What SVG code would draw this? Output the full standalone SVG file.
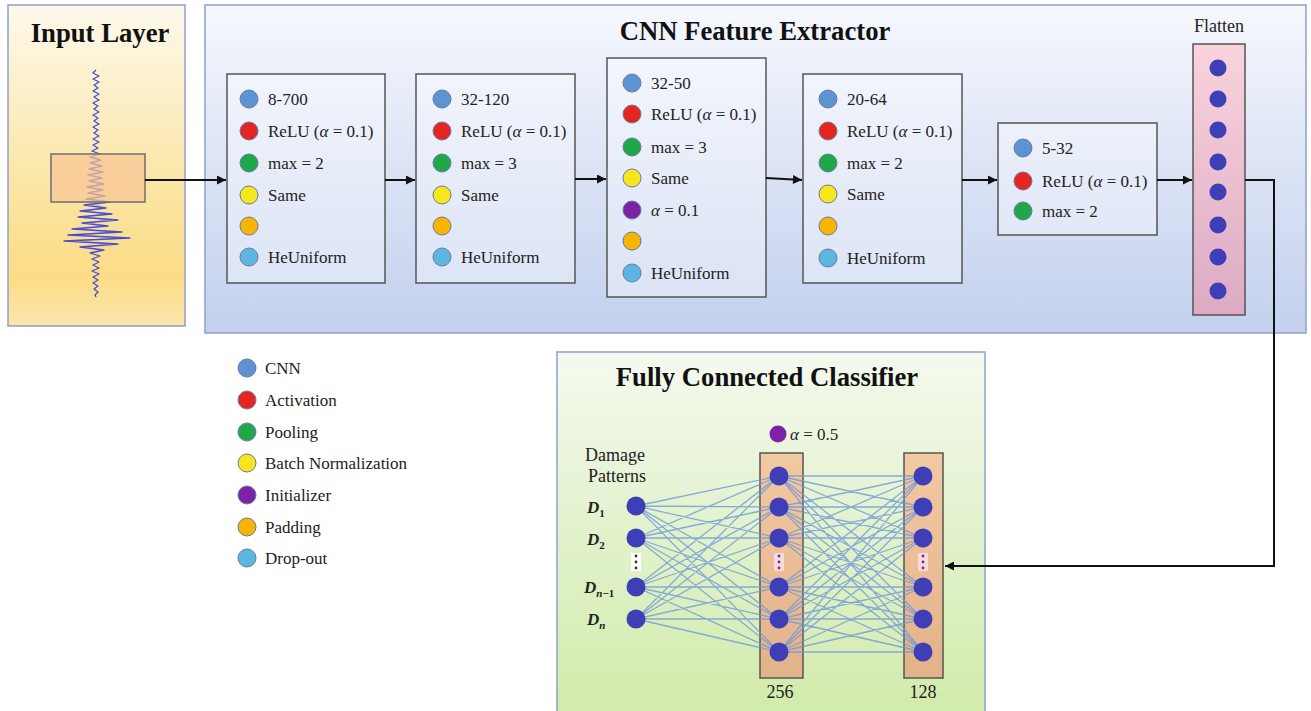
<svg xmlns="http://www.w3.org/2000/svg" width="1311" height="711" viewBox="0 0 1311 711">
  <defs>
    <linearGradient id="gInput" x1="0" y1="0" x2="0" y2="1">
      <stop offset="0" stop-color="#fdf9ec"/>
      <stop offset="0.55" stop-color="#fbe6a6"/>
      <stop offset="0.85" stop-color="#fbdc86"/>
      <stop offset="1" stop-color="#fce6ae"/>
    </linearGradient>
    <linearGradient id="gCnn" x1="0" y1="0" x2="0" y2="1">
      <stop offset="0" stop-color="#f6f8fd"/>
      <stop offset="0.5" stop-color="#dbe3f5"/>
      <stop offset="1" stop-color="#c3d1ee"/>
    </linearGradient>
    <linearGradient id="gFc" x1="0" y1="0" x2="0" y2="1">
      <stop offset="0" stop-color="#f5f9ef"/>
      <stop offset="0.5" stop-color="#e2f2cc"/>
      <stop offset="1" stop-color="#d1ebaa"/>
    </linearGradient>
    <linearGradient id="gFlat" x1="0" y1="0" x2="0" y2="1">
      <stop offset="0" stop-color="#f9d3dc"/>
      <stop offset="1" stop-color="#dcaac4"/>
    </linearGradient>
    <linearGradient id="gLayer" x1="0" y1="0" x2="0" y2="1">
      <stop offset="0" stop-color="#f3c9a2"/>
      <stop offset="1" stop-color="#e2b28a"/>
    </linearGradient>
    <marker id="arr" viewBox="0 0 10 10" refX="10" refY="5" markerWidth="10" markerHeight="9" markerUnits="userSpaceOnUse" orient="auto">
      <path d="M0,0 L10,5 L0,10 z" fill="#111"/>
    </marker>
    <style>
      .ttl{font-family:"Liberation Serif",serif;font-weight:bold;font-size:26.7px;fill:#111;text-anchor:middle}
      .t{font-family:"Liberation Serif",serif;font-size:17px;fill:#222}
      .tc{font-family:"Liberation Serif",serif;font-size:18px;fill:#222;text-anchor:middle}
      .d{font-family:"Liberation Serif",serif;font-size:17px;font-style:italic;font-weight:bold;fill:#222}
      .sub{font-size:11px;font-style:normal}
      .sub .v{font-style:italic}
      .panel{stroke:#8fa0cf;stroke-width:1.5}
      .box{fill:#ffffff;fill-opacity:.35;stroke:#555;stroke-width:1.5}
      .c{stroke:#6b79a4;stroke-width:1}
      .cnn{fill:#5b93d3}.act{fill:#e3261f}.pool{fill:#1fa84a}.bn{fill:#f6e61c}
      .ini{fill:#7d22a6}.pad{fill:#f7b500}.drop{fill:#5cb6e0}
      .nr{fill:#3e3eb6}
      .fl{stroke:#111;stroke-width:2;fill:none}
      .mesh{stroke:#6f98d8;stroke-width:1.3;stroke-opacity:.8;fill:none}
      .lay{fill:url(#gLayer);stroke:#555;stroke-width:1.5}
    </style>
  </defs>

  <!-- Input layer panel -->
  <g id="input-layer">
    <rect class="panel" x="8" y="5" width="177" height="321" fill="url(#gInput)"/>
    <text class="ttl" x="100" y="42">Input Layer</text>
    <polyline fill="none" stroke="#b8b8c8" stroke-width="1.2" points="96,205 104,208 86,211 108,214 82,217 112,220 84,223 106,226 78,229 116,232 74,235 124,238 70,241 112,244 84,247 100,250"/>
    <polyline fill="none" stroke="#4a4ed0" stroke-width="1.3" stroke-linejoin="round" points="96,70 93,73 99,76 93,79 99,82 94,85 98,88 93,91 99,94 94,97 99,100 93,103 98,106 94,109 99,112 93,115 98,118 94,121 99,124 93,127 98,130 94,133 99,136 93,139 99,142 93,145 98,148 92,151 100,154 90,157 101,160 90,163 102,166 89,169 103,172 88,175 102,178 89,181 104,184 87,187 103,190 88,193 105,196 86,199 110,202 84,205 106,208 80,211 112,214 78,217 118,220 82,223 108,226 72,229 122,232 68,235 130,238 64,241 118,244 80,247 104,250 90,253 100,256 92,259 99,262 93,265 99,268 92,271 99,274 93,277 98,280 93,283 98,286 94,289 98,292 95,295 96,297"/>
    <rect x="51" y="154" width="94" height="48" fill="#f8c594" fill-opacity="0.72" stroke="#6e6e6e" stroke-width="1.5"/>
  </g>

  <!-- CNN feature extractor panel -->
  <g id="cnn-panel">
    <rect class="panel" x="205" y="5" width="1101" height="328" fill="url(#gCnn)"/>
    <text class="ttl" x="755" y="40">CNN Feature Extractor</text>
  </g>

  <g id="conv-block-1">
    <rect class="box" x="227" y="74" width="158" height="209"/>
    <circle class="c cnn" cx="249" cy="99" r="9"/><text class="t" x="268" y="105">8-700</text>
    <circle class="c act" cx="249" cy="131" r="9"/><text class="t" x="268" y="137">ReLU (<tspan font-style="italic">α</tspan> = 0.1)</text>
    <circle class="c pool" cx="249" cy="163" r="9"/><text class="t" x="268" y="169">max = 2</text>
    <circle class="c bn" cx="249" cy="195" r="9"/><text class="t" x="268" y="201">Same</text>
    <circle class="c pad" cx="249" cy="226" r="9"/>
    <circle class="c drop" cx="249" cy="257" r="9"/><text class="t" x="268" y="263">HeUniform</text>
  </g>

  <g id="conv-block-2">
    <rect class="box" x="416" y="74" width="159" height="209"/>
    <circle class="c cnn" cx="442" cy="99" r="9"/><text class="t" x="461" y="105">32-120</text>
    <circle class="c act" cx="442" cy="131" r="9"/><text class="t" x="461" y="137">ReLU (<tspan font-style="italic">α</tspan> = 0.1)</text>
    <circle class="c pool" cx="442" cy="163" r="9"/><text class="t" x="461" y="169">max = 3</text>
    <circle class="c bn" cx="442" cy="195" r="9"/><text class="t" x="461" y="201">Same</text>
    <circle class="c pad" cx="442" cy="226" r="9"/>
    <circle class="c drop" cx="442" cy="257" r="9"/><text class="t" x="461" y="263">HeUniform</text>
  </g>

  <g id="conv-block-3">
    <rect class="box" x="607" y="58" width="159" height="239"/>
    <circle class="c cnn" cx="632" cy="83" r="9"/><text class="t" x="651" y="89">32-50</text>
    <circle class="c act" cx="632" cy="114" r="9"/><text class="t" x="651" y="120">ReLU (<tspan font-style="italic">α</tspan> = 0.1)</text>
    <circle class="c pool" cx="632" cy="147" r="9"/><text class="t" x="651" y="153">max = 3</text>
    <circle class="c bn" cx="632" cy="178" r="9"/><text class="t" x="651" y="184">Same</text>
    <circle class="c ini" cx="632" cy="210" r="9"/><text class="t" x="651" y="216"><tspan font-style="italic">α</tspan> = 0.1</text>
    <circle class="c pad" cx="632" cy="241" r="9"/>
    <circle class="c drop" cx="632" cy="273" r="9"/><text class="t" x="651" y="279">HeUniform</text>
  </g>

  <g id="conv-block-4">
    <rect class="box" x="803" y="74" width="159" height="209"/>
    <circle class="c cnn" cx="828" cy="99" r="9"/><text class="t" x="847" y="105">20-64</text>
    <circle class="c act" cx="828" cy="131" r="9"/><text class="t" x="847" y="137">ReLU (<tspan font-style="italic">α</tspan> = 0.1)</text>
    <circle class="c pool" cx="828" cy="163" r="9"/><text class="t" x="847" y="169">max = 2</text>
    <circle class="c bn" cx="828" cy="194" r="9"/><text class="t" x="847" y="200">Same</text>
    <circle class="c pad" cx="828" cy="226" r="9"/>
    <circle class="c drop" cx="828" cy="258" r="9"/><text class="t" x="847" y="264">HeUniform</text>
  </g>

  <g id="conv-block-5">
    <rect class="box" x="998" y="123" width="159" height="112"/>
    <circle class="c cnn" cx="1023" cy="148" r="9"/><text class="t" x="1042" y="154">5-32</text>
    <circle class="c act" cx="1023" cy="181" r="9"/><text class="t" x="1042" y="187">ReLU (<tspan font-style="italic">α</tspan> = 0.1)</text>
    <circle class="c pool" cx="1023" cy="211" r="9"/><text class="t" x="1042" y="217">max = 2</text>
  </g>

  <g id="flatten">
    <text class="tc" x="1219" y="32">Flatten</text>
    <rect x="1193" y="44" width="52" height="271" fill="url(#gFlat)" stroke="#555" stroke-width="1.5"/>
    <circle class="nr" cx="1218" cy="68" r="8.5"/>
    <circle class="nr" cx="1218" cy="99" r="8.5"/>
    <circle class="nr" cx="1218" cy="130" r="8.5"/>
    <circle class="nr" cx="1218" cy="162" r="8.5"/>
    <circle class="nr" cx="1218" cy="192" r="8.5"/>
    <circle class="nr" cx="1218" cy="225" r="8.5"/>
    <circle class="nr" cx="1218" cy="257" r="8.5"/>
    <circle class="nr" cx="1218" cy="291" r="8.5"/>
  </g>

  <!-- Legend -->
  <g id="legend">
    <circle class="c cnn" cx="247" cy="368" r="9"/><text class="t" x="265" y="374">CNN</text>
    <circle class="c act" cx="247" cy="400" r="9"/><text class="t" x="265" y="406">Activation</text>
    <circle class="c pool" cx="247" cy="432" r="9"/><text class="t" x="265" y="438">Pooling</text>
    <circle class="c bn" cx="247" cy="463" r="9"/><text class="t" x="265" y="469">Batch Normalization</text>
    <circle class="c ini" cx="247" cy="495" r="9"/><text class="t" x="265" y="501">Initializer</text>
    <circle class="c pad" cx="247" cy="527" r="9"/><text class="t" x="265" y="533">Padding</text>
    <circle class="c drop" cx="247" cy="558" r="9"/><text class="t" x="265" y="564">Drop-out</text>
  </g>

  <!-- Fully connected classifier -->
  <g id="fc-panel">
    <rect class="panel" x="557" y="352" width="428" height="362" fill="url(#gFc)"/>
    <text class="ttl" x="767" y="386">Fully Connected Classifier</text>
    <text class="tc" x="615" y="461">Damage</text>
    <text class="tc" x="617" y="482">Patterns</text>
    <circle class="ini" cx="778" cy="434" r="8.5"/>
    <text class="t" x="790" y="440"><tspan font-style="italic">α</tspan> = 0.5</text>
  </g>

  <g id="dense-256">
    <rect class="lay" x="760" y="453" width="43" height="225"/>
    <text class="tc" x="780" y="698">256</text>
  </g>
  <g id="dense-128">
    <rect class="lay" x="904" y="453" width="39" height="225"/>
    <text class="tc" x="923" y="698">128</text>
  </g>

  <g id="fc-mesh">
    <path class="mesh" d="M636 506L779 476M636 506L779 507M636 506L779 538M636 506L779 587M636 506L779 619M636 506L779 652
M636 538L779 476M636 538L779 507M636 538L779 538M636 538L779 587M636 538L779 619M636 538L779 652
M636 587L779 476M636 587L779 507M636 587L779 538M636 587L779 587M636 587L779 619M636 587L779 652
M636 619L779 476M636 619L779 507M636 619L779 538M636 619L779 587M636 619L779 619M636 619L779 652
M779 476L923 476M779 476L923 507M779 476L923 538M779 476L923 587M779 476L923 619M779 476L923 652
M779 507L923 476M779 507L923 507M779 507L923 538M779 507L923 587M779 507L923 619M779 507L923 652
M779 538L923 476M779 538L923 507M779 538L923 538M779 538L923 587M779 538L923 619M779 538L923 652
M779 587L923 476M779 587L923 507M779 587L923 538M779 587L923 587M779 587L923 619M779 587L923 652
M779 619L923 476M779 619L923 507M779 619L923 538M779 619L923 587M779 619L923 619M779 619L923 652
M779 652L923 476M779 652L923 507M779 652L923 538M779 652L923 587M779 652L923 619M779 652L923 652"/>
  </g>

  <g id="damage-inputs">
    <circle class="nr" cx="636" cy="506" r="9.5"/>
    <circle class="nr" cx="636" cy="538" r="9.5"/>
    <rect x="631" y="553" width="10" height="18" fill="#ffffff"/>
    <circle cx="636" cy="556" r="1.4" fill="#333"/><circle cx="636" cy="562" r="1.4" fill="#333"/><circle cx="636" cy="568" r="1.4" fill="#333"/>
    <circle class="nr" cx="636" cy="587" r="9.5"/>
    <circle class="nr" cx="636" cy="619" r="9.5"/>
    <text class="d" x="587" y="513">D<tspan class="sub" dy="4">1</tspan></text>
    <text class="d" x="587" y="545">D<tspan class="sub" dy="4">2</tspan></text>
    <text class="d" x="584" y="593">D<tspan class="sub" dy="4"><tspan class="v">n</tspan>−1</tspan></text>
    <text class="d" x="587" y="625">D<tspan class="sub" dy="4"><tspan class="v">n</tspan></tspan></text>
  </g>

  <g id="neurons-256">
    <circle class="nr" cx="779" cy="476" r="9.5"/>
    <circle class="nr" cx="779" cy="507" r="9.5"/>
    <circle class="nr" cx="779" cy="538" r="9.5"/>
    <rect x="774" y="553" width="10" height="18" fill="#f9d9e0"/>
    <circle cx="779" cy="556" r="1.4" fill="#5a3a7a"/><circle cx="779" cy="562" r="1.4" fill="#5a3a7a"/><circle cx="779" cy="568" r="1.4" fill="#5a3a7a"/>
    <circle class="nr" cx="779" cy="587" r="9.5"/>
    <circle class="nr" cx="779" cy="619" r="9.5"/>
    <circle class="nr" cx="779" cy="652" r="9.5"/>
  </g>

  <g id="neurons-128">
    <circle class="nr" cx="923" cy="476" r="9.5"/>
    <circle class="nr" cx="923" cy="507" r="9.5"/>
    <circle class="nr" cx="923" cy="538" r="9.5"/>
    <rect x="918" y="553" width="10" height="18" fill="#f9d9e0"/>
    <circle cx="923" cy="556" r="1.4" fill="#5a3a7a"/><circle cx="923" cy="562" r="1.4" fill="#5a3a7a"/><circle cx="923" cy="568" r="1.4" fill="#5a3a7a"/>
    <circle class="nr" cx="923" cy="587" r="9.5"/>
    <circle class="nr" cx="923" cy="619" r="9.5"/>
    <circle class="nr" cx="923" cy="652" r="9.5"/>
  </g>

  <!-- Connectors between stages -->
  <g id="connectors">
    <path class="fl" d="M145 180H226" marker-end="url(#arr)"/>
    <path class="fl" d="M385 180H415" marker-end="url(#arr)"/>
    <path class="fl" d="M575 179H606" marker-end="url(#arr)"/>
    <path class="fl" d="M766 178L802 180" marker-end="url(#arr)"/>
    <path class="fl" d="M962 180H997" marker-end="url(#arr)"/>
    <path class="fl" d="M1157 180H1192" marker-end="url(#arr)"/>
    <path class="fl" d="M1245 180H1274V566H945" marker-end="url(#arr)"/>
  </g>
</svg>
